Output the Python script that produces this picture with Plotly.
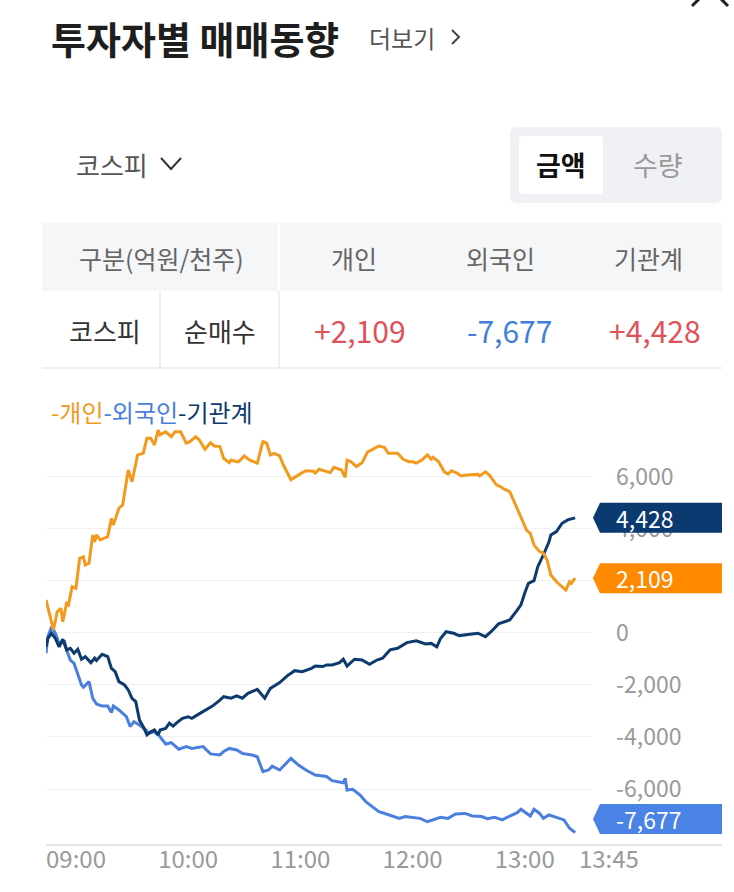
import pandas as pd
import plotly.graph_objects as go

# ---------------- data (억원) ----------------
indiv_time = ["09:00","09:04","09:06","09:08","09:09","09:11","09:12","09:14","09:16","09:18","09:20","09:21","09:23",
              "09:25","09:26","09:27","09:29","09:33","09:35","09:36","09:39","09:41","09:44","09:46","09:49","09:52",
              "09:54","09:56","09:58","10:00","10:01","10:04","10:07","10:09","10:12","10:15","10:17","10:20","10:22",
              "10:25","10:28","10:30","10:33","10:35","10:38","10:39","10:42","10:43","10:46","10:49","10:53","10:56",
              "10:58","11:00","11:02","11:05","11:07","11:11","11:16","11:19","11:23","11:24","11:26","11:30","11:32",
              "11:34","11:38","11:40","11:41","11:43","11:46","11:49","11:52","11:55","11:58","12:01","12:03","12:06",
              "12:08","12:11","12:14","12:16","12:18","12:21","12:24","12:26","12:27","12:30","12:33","12:35","12:37",
              "12:40","12:42","12:45","12:48","12:51","12:52","12:55","12:57","13:01","13:03","13:05","13:08","13:10",
              "13:12","13:15","13:17","13:19","13:21","13:24","13:26","13:28","13:30","13:33","13:36","13:38","13:40",
              "13:41","13:42","13:43"]
indiv_value = [1270,120,820,950,430,1140,1080,1780,1720,2870,2930,2620,2680,
               3770,3510,3770,3580,3700,4410,4150,4800,4920,6270,5820,6850,6910,
               7490,7490,7230,7810,7620,7740,7550,7740,7740,7300,7360,7550,7420,
               7070,7320,7190,7170,6720,6550,6650,6590,6590,6810,6650,6530,7360,
               7300,6850,6910,6810,6450,5900,6120,6240,6220,6150,6300,6200,6170,
               6370,6270,5990,6650,6590,6400,6550,6970,7070,7190,7140,6910,6910,
               6910,6680,6590,6590,6530,6650,6850,6680,6760,6590,6200,6120,6240,
               6140,6040,6080,6080,6100,6040,6200,6080,5690,5630,5530,5440,5120,
               4800,4280,3960,3830,3380,3130,3070,2810,2230,1970,1780,1650,1970,
               1910,2010,2109]

foreign_time = ["09:00","09:01","09:03","09:05","09:07","09:10","09:11","09:13","09:15","09:17","09:19","09:20","09:23",
                "09:25","09:27","09:30","09:33","09:35","09:36","09:39","09:43","09:45","09:47","09:50","09:53","09:55",
                "09:58","10:01","10:04","10:07","10:11","10:15","10:18","10:24","10:28","10:33","10:35","10:38","10:42",
                "10:45","10:50","10:53","10:56","10:59","11:01","11:05","11:11","11:15","11:19","11:24","11:30","11:33",
                "11:36","11:39","11:40","11:41","11:44","11:48","11:51","11:55","11:58","12:02","12:06","12:09","12:12",
                "12:15","12:20","12:24","12:28","12:31","12:35","12:39","12:44","12:48","12:53","12:56","13:00","13:04",
                "13:08","13:12","13:14","13:17","13:19","13:21","13:24","13:26","13:29","13:33","13:37","13:40","13:42",
                "13:43"]
foreign_value = [-780,-140,240,-10,-400,-330,-650,-1040,-1170,-1620,-2000,-2090,-1870,
                 -2510,-2730,-2810,-2810,-3060,-2810,-2960,-3220,-3600,-3410,-3540,-3700,-3860,
                 -3800,-3990,-4270,-4220,-4470,-4370,-4440,-4370,-4650,-4690,-4560,-4440,-4500,
                 -4630,-4690,-4760,-5330,-5270,-5120,-5270,-4820,-5080,-5270,-5460,-5520,-5680,
                 -5720,-5760,-5590,-6040,-6010,-6230,-6490,-6710,-6870,-6960,-7040,-7130,-7060,
                 -7090,-7130,-7260,-7170,-7090,-7130,-6960,-6940,-7040,-7060,-7140,-7090,-7190,
                 -7040,-6910,-6780,-6940,-7040,-6780,-6940,-7130,-7000,-7090,-7190,-7510,-7640,
                 -7677]

inst_time = ["09:00","09:01","09:03","09:05","09:07","09:09","09:11","09:13","09:15","09:17","09:19","09:21","09:24",
             "09:26","09:27","09:30","09:33","09:35","09:37","09:39","09:42","09:44","09:46","09:48","09:50","09:52",
             "09:54","09:56","09:58","10:00","10:01","10:04","10:06","10:08","10:10","10:13","10:16","10:18","10:21",
             "10:24","10:26","10:29","10:33","10:35","10:39","10:42","10:45","10:48","10:53","10:57","11:00","11:05",
             "11:09","11:13","11:17","11:22","11:24","11:28","11:30","11:33","11:37","11:39","11:41","11:45","11:49",
             "11:53","11:57","12:00","12:04","12:08","12:13","12:18","12:23","12:26","12:29","12:31","12:34","12:38",
             "12:41","12:45","12:48","12:51","12:55","12:58","13:02","13:05","13:08","13:12","13:14","13:16","13:18",
             "13:21","13:23","13:26","13:29","13:30","13:33","13:36","13:39","13:43"]
inst_value = [-530,-210,-10,-210,-530,-240,-650,-590,-780,-630,-1010,-910,-1140,
              -970,-1060,-820,-910,-1360,-1490,-1870,-2000,-2190,-2510,-2640,-3350,-3600,
              -3920,-3800,-3730,-3920,-3730,-3670,-3470,-3580,-3450,-3280,-3220,-3280,-3150,
              -3030,-2960,-2810,-2580,-2450,-2510,-2420,-2510,-2320,-2170,-2510,-2130,-1910,
              -1650,-1450,-1490,-1360,-1270,-1290,-1230,-1230,-1140,-1010,-1270,-1010,-1040,
              -1200,-1040,-970,-650,-590,-370,-300,-420,-400,-530,-210,50,-10,
              -100,-60,-50,-10,-140,50,350,430,500,880,1080,1530,1910,
              2010,2550,3000,3510,3770,3900,4220,4350,4428]

series_names = ["개인", "외국인", "기관계"]
y_tickvals = [6000, 4000, 2000, 0, -2000, -4000, -6000]
x_tick_labels = ["09:00", "10:00", "11:00", "12:00", "13:00", "13:45"]
x_range = ["09:00", "13:52"]
y_range = [-8154, 8192]
header_labels = ["구분(억원/천주)", "개인", "외국인", "기관계"]
row_labels = ["코스피", "순매수"]

# ---------------- styling ----------------
FONT = "Noto Sans CJK KR"
C_INDIV, C_FOREIGN, C_INST = "#f39a1e", "#4a7fde", "#0d3b6e"
TAG_INDIV, TAG_FOREIGN, TAG_INST = "#ff8a00", "#4a82e6", "#0b3a70"
RED, BLUE = "#e0525a", "#3f7fd9"

W, H = 734, 892
PL, PR, PT, PB = 46, 592, 420, 845  # plot area pixel box


def xp(px):
    return (px - PL) / (PR - PL)


def yp(py):
    return (PB - py) / (PB - PT)


def ts(t):
    return pd.to_datetime("2024-01-02 " + t)


fig = go.Figure()
for times, vals, col, name in [
    (foreign_time, foreign_value, C_FOREIGN, series_names[1]),
    (inst_time, inst_value, C_INST, series_names[2]),
    (indiv_time, indiv_value, C_INDIV, series_names[0]),
]:
    fig.add_trace(go.Scatter(x=[ts(t) for t in times], y=vals, mode="lines", name=name,
                             line=dict(color=col, width=3), hoverinfo="skip"))

fig.update_layout(
    width=W, height=H, paper_bgcolor="white", plot_bgcolor="white",
    margin=dict(l=PL, r=W - PR, t=PT, b=H - PB, pad=0),
    showlegend=False, font=dict(family=FONT, color="#999"),
)
fig.update_xaxes(type="date", range=[ts(x_range[0]), ts(x_range[1])],
                 tickvals=[ts(t) for t in x_tick_labels], ticktext=x_tick_labels,
                 showgrid=False, zeroline=False, showline=False, ticks="",
                 tickfont=dict(size=24, color="#999", family=FONT),
                 ticklabelshift=30, ticklabelstandoff=-2)
fig.update_yaxes(range=y_range, side="right", tickvals=y_tickvals,
                 ticktext=[f"{v:,}" for v in y_tickvals],
                 showgrid=True, gridcolor="#f0f0f0", gridwidth=1, zeroline=False, showline=False,
                 ticks="", tickfont=dict(size=23, color="#999", family=FONT),
                 ticklabelstandoff=23)

shapes = []
ann = []


def rrect(x0, y0, x1, y1, r):
    X0, X1, Y0, Y1 = xp(x0), xp(x1), yp(y0), yp(y1)
    rx, ry = r / (PR - PL), r / (PB - PT)
    return (f"M {X0+rx},{Y0} L {X1-rx},{Y0} Q {X1},{Y0} {X1},{Y0-ry} L {X1},{Y1+ry} "
            f"Q {X1},{Y1} {X1-rx},{Y1} L {X0+rx},{Y1} Q {X0},{Y1} {X0},{Y1+ry} L {X0},{Y0-ry} "
            f"Q {X0},{Y0} {X0+rx},{Y0} Z")


# close icon (partially cut off)
for xe in (692, 728):
    shapes.append(dict(type="line", xref="paper", yref="paper", x0=xp(710), y0=yp(-12), x1=xp(xe),
                       y1=yp(6), line=dict(color="#222", width=3)))
# title row
ann.append(dict(text="<b>투자자별 매매동향</b>", x=xp(49), y=yp(38), xanchor="left", yanchor="middle",
                font=dict(size=38, color="#1e1e1e", family=FONT)))
ann.append(dict(text="더보기", x=xp(367), y=yp(38), xanchor="left", yanchor="middle",
                font=dict(size=24, color="#555", family=FONT)))
shapes.append(dict(type="path", xref="paper", yref="paper",
                   path=f"M {xp(452)},{yp(30)} L {xp(459)},{yp(37)} L {xp(452)},{yp(44)}",
                   line=dict(color="#444", width=2)))
# controls row
ann.append(dict(text="코스피", x=xp(74), y=yp(164), xanchor="left", yanchor="middle",
                font=dict(size=26, color="#555", family=FONT)))
shapes.append(dict(type="path", xref="paper", yref="paper",
                   path=f"M {xp(161)},{yp(158)} L {xp(171)},{yp(169)} L {xp(181)},{yp(158)}",
                   line=dict(color="#333", width=2)))
shapes.append(dict(type="path", xref="paper", yref="paper", path=rrect(510, 127, 722, 203, 7),
                   fillcolor="#f0f1f4", line=dict(width=0), layer="below"))
shapes.append(dict(type="path", xref="paper", yref="paper", path=rrect(519, 136, 603, 194, 4),
                   fillcolor="white", line=dict(width=0), layer="below"))
ann.append(dict(text="<b>금액</b>", x=xp(561), y=yp(164), xanchor="center", yanchor="middle",
                font=dict(size=27, color="#111", family=FONT)))
ann.append(dict(text="수량", x=xp(658), y=yp(164), xanchor="center", yanchor="middle",
                font=dict(size=27, color="#999", family=FONT)))
# table
shapes.append(dict(type="rect", xref="paper", yref="paper", x0=xp(42), x1=xp(722), y0=yp(223), y1=yp(291),
                   fillcolor="#f5f6f8", line=dict(width=0), layer="below"))
shapes.append(dict(type="line", xref="paper", yref="paper", x0=xp(279), x1=xp(279), y0=yp(223), y1=yp(291),
                   line=dict(color="white", width=2)))
for xl in (160, 279):
    shapes.append(dict(type="line", xref="paper", yref="paper", x0=xp(xl), x1=xp(xl), y0=yp(291), y1=yp(368),
                       line=dict(color="#ebebeb", width=1.5)))
shapes.append(dict(type="line", xref="paper", yref="paper", x0=xp(42), x1=xp(722), y0=yp(368), y1=yp(368),
                   line=dict(color="#e8e8e8", width=1.5)))
for txt, cx in zip(header_labels, (161, 354, 500, 648)):
    ann.append(dict(text=txt, x=xp(cx), y=yp(258), xanchor="center", yanchor="middle",
                    font=dict(size=25, color="#666", family=FONT)))
for txt, cx in zip(row_labels, (105, 220)):
    ann.append(dict(text=txt, x=xp(cx), y=yp(330), xanchor="center", yanchor="middle",
                    font=dict(size=26, color="#333", family=FONT)))
for vals, cx in zip((indiv_value, foreign_value, inst_value), (360, 509, 655)):
    v = vals[-1]
    ann.append(dict(text=f"{v:+,}", x=xp(cx), y=yp(330), xanchor="center", yanchor="middle",
                    font=dict(size=30, color=RED if v > 0 else BLUE, family=FONT)))
# legend
ann.append(dict(text=(f"<span style='color:{C_INDIV}'>-{series_names[0]}</span>"
                      f"<span style='color:{C_FOREIGN}'>-{series_names[1]}</span>"
                      f"<span style='color:{C_INST}'>-{series_names[2]}</span>"),
                x=xp(49), y=yp(411), xanchor="left", yanchor="middle", font=dict(size=24, family=FONT)))
# x axis line extending under the labels
shapes.append(dict(type="line", xref="paper", yref="paper", x0=0, x1=xp(722), y0=0, y1=0,
                   line=dict(color="#dddddd", width=1.5)))
# end-value tags
unit_per_px = (y_range[1] - y_range[0]) / (PB - PT)
lo_limit = y_range[0] + 26 * unit_per_px
for vals, col in ((inst_value, TAG_INST), (indiv_value, TAG_INDIV), (foreign_value, TAG_FOREIGN)):
    v = vals[-1]
    yv = max(v, lo_limit)
    shapes.append(dict(type="path", xref="paper", yref="y", xsizemode="pixel", ysizemode="pixel",
                       xanchor=1, yanchor=yv, path="M 8,15 L 130,15 L 130,-15 L 8,-15 L 1,0 Z",
                       fillcolor=col, line=dict(width=0), layer="above"))
    ann.append(dict(text=f"{v:,}", x=1, xref="paper", y=yv, yref="y", xanchor="left", yanchor="middle",
                    xshift=22, showarrow=False, font=dict(size=23, color="white", family=FONT)))

for a in ann:
    a.setdefault("xref", "paper")
    a.setdefault("yref", "paper")
    a.setdefault("showarrow", False)
fig.update_layout(shapes=shapes, annotations=ann)
fig.write_html("out.html", config={"displayModeBar": False},
               post_script="document.body.style.margin='0';")
